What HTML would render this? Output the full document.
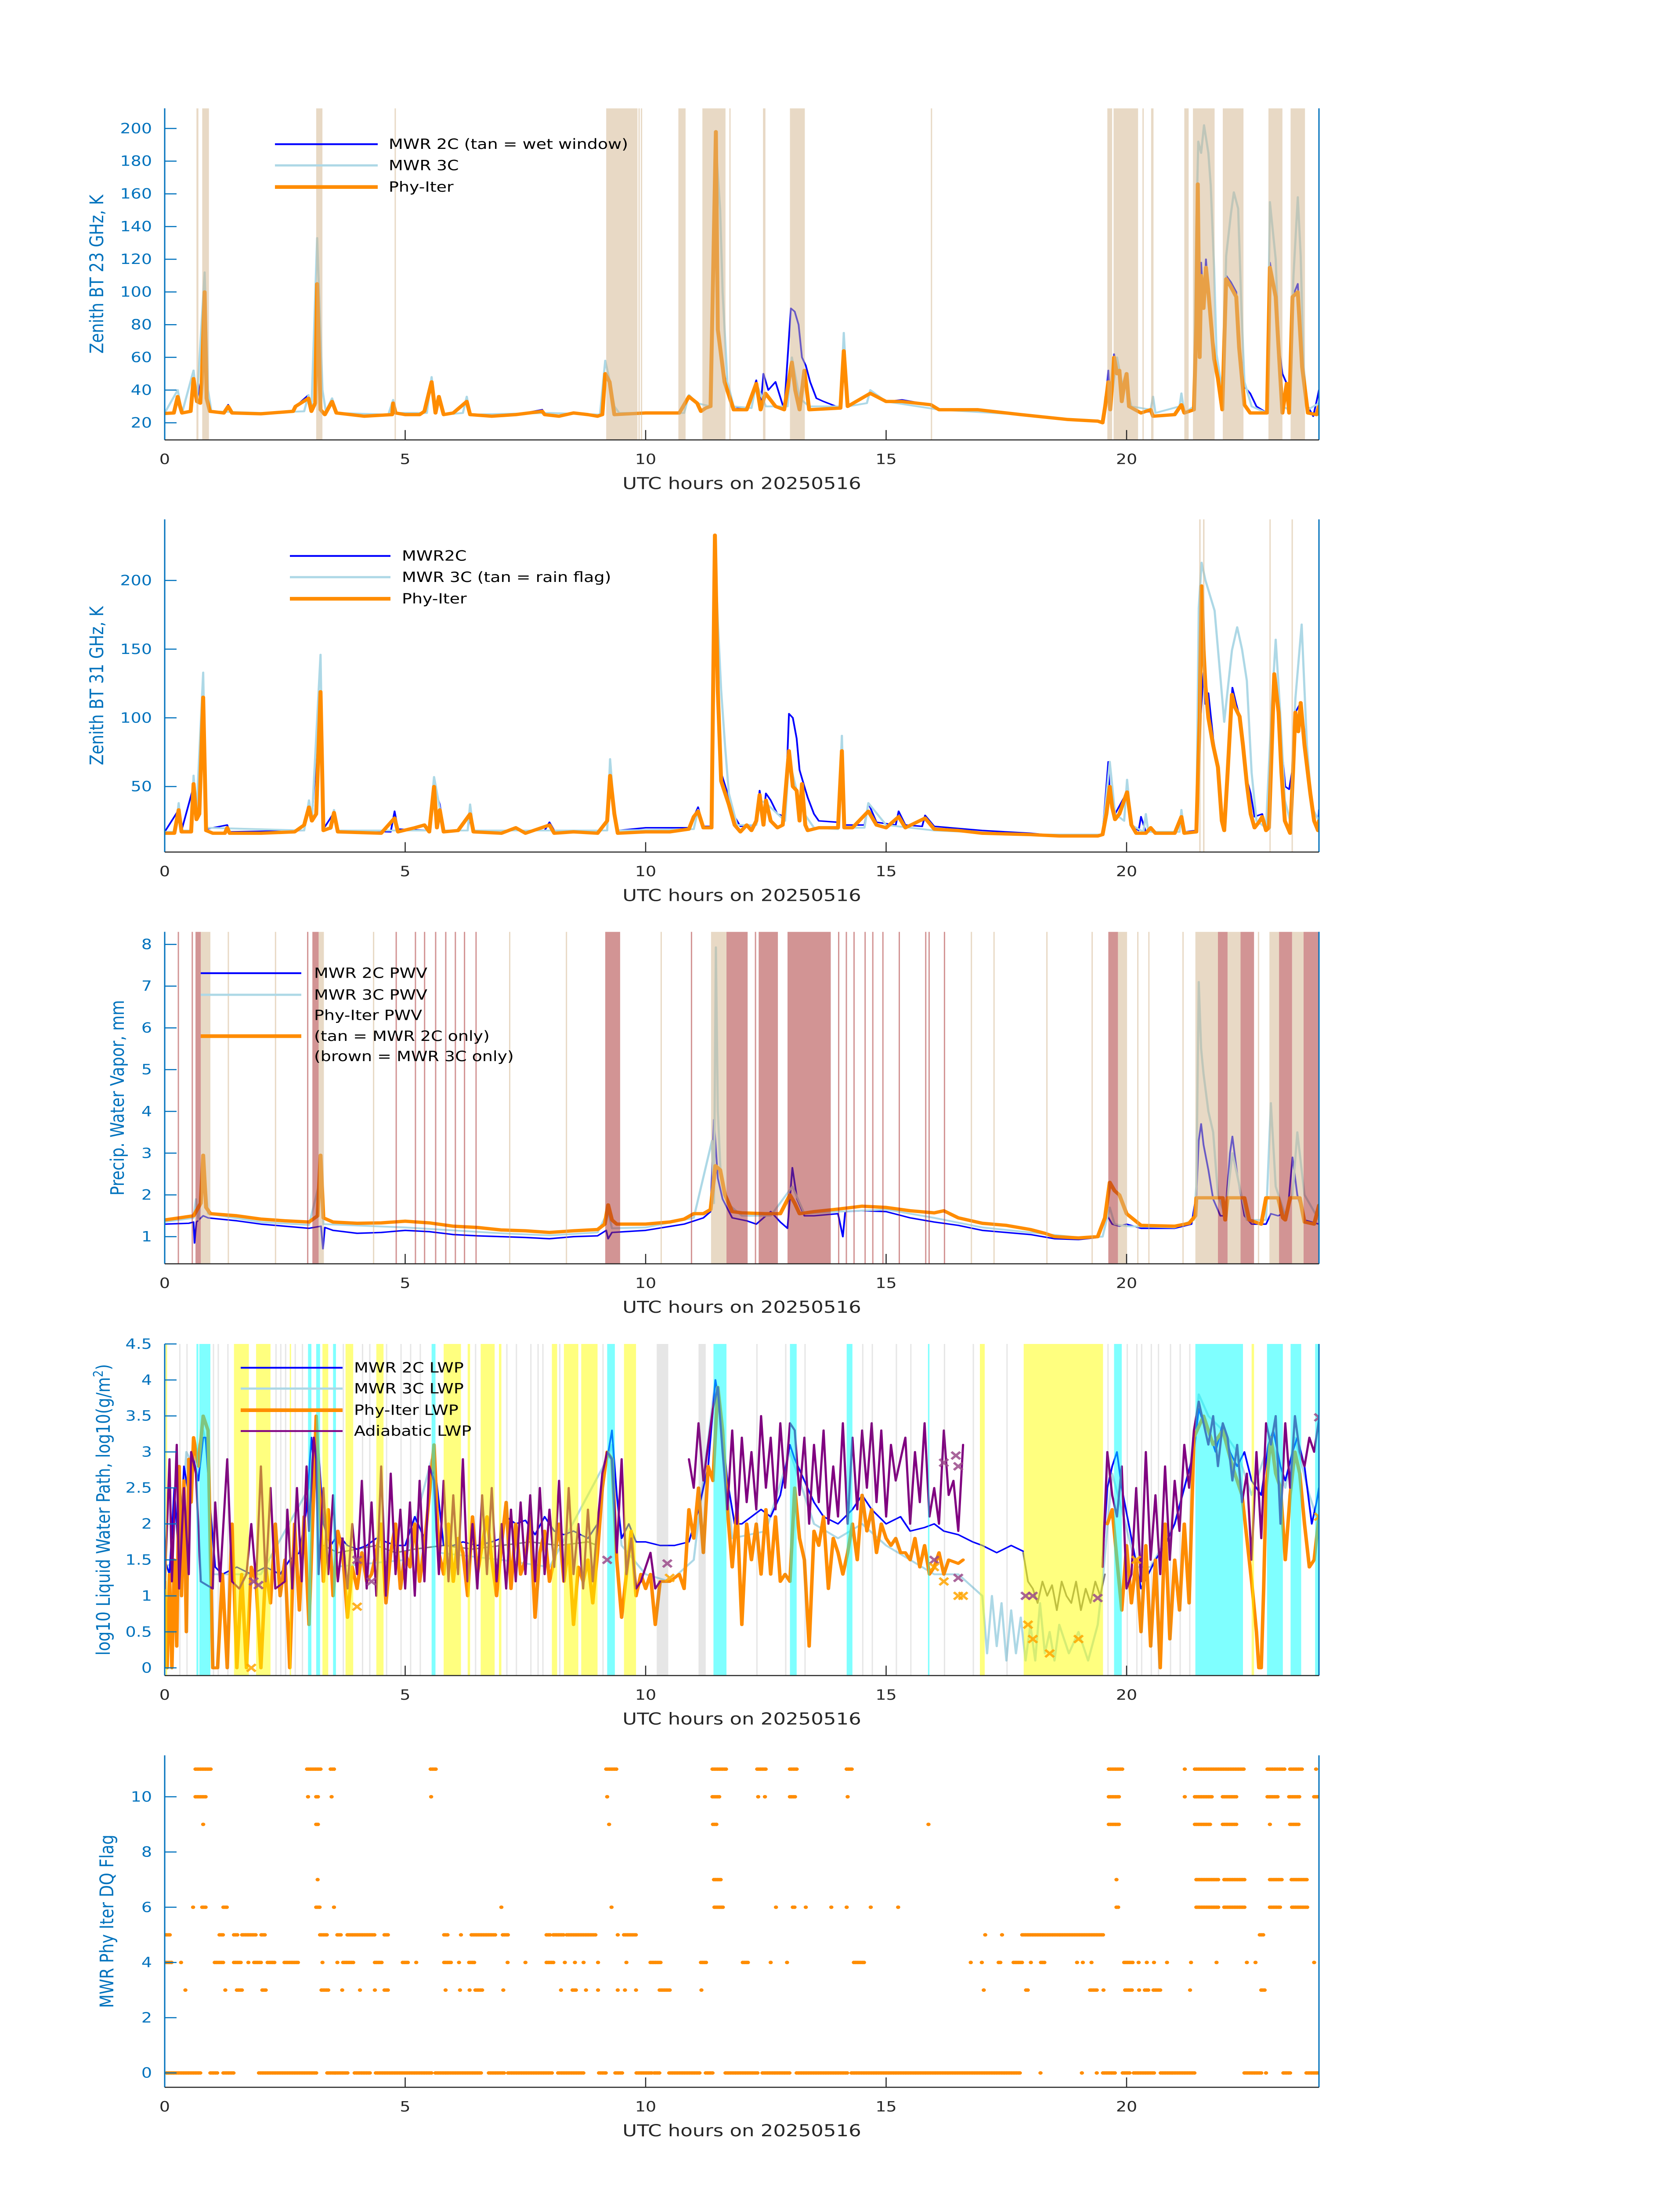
<!DOCTYPE html>
<html><head><meta charset="utf-8"><title>MWR 20250516</title>
<style>
html,body{margin:0;padding:0;background:#fff;width:100vw;height:100vh;overflow:hidden;}
svg{display:block;position:absolute;left:0;top:0;width:100vw;height:100vh;font-family:"DejaVu Sans","Liberation Sans",sans-serif;}
</style></head>
<body>
<svg id="chart" viewBox="0 0 3825 6000" preserveAspectRatio="none" xmlns="http://www.w3.org/2000/svg">
<rect x="0" y="0" width="3825" height="6000" fill="#ffffff"/>
</svg>
<script>
// ---------------- DATA ----------------
const hourTicks = [0,5,10,15,20];
const bt23Ticks = [20,40,60,80,100,120,140,160,180,200];
const bt31Ticks = [50,100,150,200];
const pwvTicks = [1,2,3,4,5,6,7,8];
const lwpTicks = [0,0.5,1,1.5,2,2.5,3,3.5,4,4.5];
const lwpTickLabels = ["0","0.5","1","1.5","2","2.5","3","3.5","4","4.5"];
const flagTicks = [0,2,4,6,8,10];

const bt23Orange = [[0,25.7],[0.19,26],[0.27,36],[0.32,30],[0.36,26],[0.54,27],[0.6,47],[0.64,38],[0.67,33],[0.74,32],[0.77,44],[0.83,100],[0.87,35],[0.94,27],[1.23,26],[1.32,30],[1.4,26],[2.0,25.5],[2.67,27],[2.72,30],[2.99,35],[3.05,27],[3.13,32],[3.17,105],[3.24,28],[3.33,25],[3.48,33],[3.57,26],[4.15,24],[4.73,25],[4.75,32],[4.8,26],[5.0,25],[5.3,25],[5.4,27],[5.55,45],[5.63,26],[5.7,36],[5.8,25],[6.0,26],[6.28,33],[6.35,25],[6.8,24],[7.3,25],[7.85,27],[7.9,25],[8.2,24],[8.5,26],[8.8,25],[9.0,24],[9.1,25],[9.16,50],[9.25,45],[9.35,25],[10.0,26],[10.7,26],[10.9,36],[11.07,32],[11.15,27],[11.25,29],[11.35,30],[11.46,198],[11.5,77],[11.64,45],[11.83,28],[12.1,28],[12.3,44],[12.39,28],[12.49,38],[12.7,30],[12.88,28],[13.04,57],[13.11,40],[13.2,28],[13.3,52],[13.4,28],[14.05,29],[14.12,64],[14.2,30],[14.67,38],[15.0,33],[15.33,33],[15.93,31],[16.1,28],[16.9,28],[17.8,25],[18.78,22],[19.4,21],[19.5,20],[19.56,31],[19.62,45],[19.66,28],[19.74,60],[19.8,50],[19.85,52],[19.9,33],[19.96,45],[20.0,50],[20.05,30],[20.3,26],[20.5,28],[20.55,24],[21.0,25],[21.14,31],[21.2,26],[21.4,28],[21.45,80],[21.48,166],[21.52,60],[21.55,110],[21.6,90],[21.65,115],[21.7,100],[21.82,59],[21.9,47],[21.99,28],[22.07,108],[22.17,103],[22.28,97],[22.34,66],[22.45,31],[22.57,26],[22.92,26],[22.98,115],[23.1,97],[23.15,71],[23.24,26],[23.33,44],[23.38,26],[23.45,97],[23.56,100],[23.65,54],[23.77,26],[23.95,25],[24,30]];
const bt23Blue = [[0,25.7],[0.19,26],[0.27,36],[0.36,26],[0.54,27],[0.6,46],[0.64,40],[0.67,33],[0.7,44],[0.74,32],[0.77,44],[0.83,100],[0.87,35],[0.94,27],[1.23,26],[1.32,31],[1.4,26],[2.0,25.5],[2.67,27],[2.72,30],[2.99,37],[3.05,27],[3.13,32],[3.17,105],[3.24,28],[3.33,25],[3.48,33],[3.57,26],[4.15,24],[4.73,25],[4.75,33],[4.8,26],[5.0,25],[5.3,25],[5.4,28],[5.55,45],[5.63,26],[5.7,36],[5.8,25],[6.0,26],[6.28,33],[6.35,25],[6.8,24],[7.3,25],[7.85,28],[7.9,25],[8.2,24],[8.5,26],[8.8,25],[9.0,24],[9.1,25],[9.16,50],[9.25,45],[9.35,30],[9.45,26],[10.0,26],[10.7,26],[10.9,36],[11.07,32],[11.15,27],[11.25,29],[11.35,30],[11.46,198],[11.5,77],[11.6,50],[11.7,45],[11.83,30],[12.1,28],[12.3,46],[12.39,30],[12.45,50],[12.55,40],[12.7,45],[12.88,28],[13.02,90],[13.1,88],[13.18,80],[13.25,60],[13.33,55],[13.42,45],[13.55,35],[13.7,33],[14.05,29],[14.12,64],[14.2,30],[14.67,38],[15.0,33],[15.33,34],[15.93,31],[16.1,28],[16.9,28],[17.8,25],[18.78,22],[19.4,21],[19.5,20],[19.56,31],[19.62,52],[19.66,30],[19.74,62],[19.8,52],[19.85,52],[19.9,33],[19.96,45],[20.0,50],[20.05,30],[20.3,26],[20.5,27],[20.55,24],[21.0,25],[21.14,31],[21.2,26],[21.4,28],[21.45,80],[21.48,160],[21.52,65],[21.55,118],[21.6,92],[21.65,120],[21.7,100],[21.82,60],[21.9,50],[21.99,32],[22.07,110],[22.17,106],[22.28,100],[22.34,70],[22.45,42],[22.57,38],[22.7,30],[22.92,26],[22.98,118],[23.1,97],[23.15,71],[23.24,50],[23.33,44],[23.38,30],[23.45,97],[23.56,105],[23.65,54],[23.77,30],[23.88,24],[23.95,33],[24,40]];
const bt23Light = [[0,26],[0.27,40],[0.36,26],[0.6,52],[0.67,33],[0.83,112],[0.9,40],[0.97,27],[2.0,26],[2.9,27],[2.99,37],[3.05,27],[3.17,133],[3.28,40],[3.35,27],[3.48,35],[3.57,26],[4.65,25],[4.75,34],[4.8,26],[5.45,26],[5.55,48],[5.63,26],[5.7,36],[5.8,25],[6.2,26],[6.28,36],[6.35,25],[8.0,26],[9.05,25],[9.16,58],[9.25,46],[9.35,30],[9.45,26],[10.8,26],[10.9,37],[11.07,32],[11.35,30],[11.46,190],[11.55,150],[11.6,100],[11.7,45],[11.83,30],[12.2,29],[12.3,44],[12.5,30],[12.95,30],[13.04,60],[13.2,35],[13.4,30],[14.05,30],[14.12,75],[14.2,30],[14.6,32],[14.67,40],[15.0,33],[16.1,28],[17.8,25],[18.78,22],[19.5,21],[19.56,36],[19.62,40],[19.7,38],[19.8,60],[19.9,45],[20.0,42],[20.1,30],[20.5,28],[20.55,36],[20.6,26],[21.1,30],[21.14,38],[21.2,26],[21.4,30],[21.45,140],[21.49,192],[21.55,185],[21.61,202],[21.7,185],[21.75,165],[21.82,114],[21.87,62],[22.0,37],[22.07,122],[22.17,148],[22.23,161],[22.32,151],[22.39,88],[22.45,45],[22.6,30],[22.92,26],[22.98,155],[23.1,120],[23.15,80],[23.24,30],[23.38,28],[23.47,110],[23.56,158],[23.62,122],[23.68,54],[23.77,28],[24,32]];
const bt23Wet = [[0.66,0.70],[0.78,0.92],[3.15,3.28],[4.78,4.80],[9.18,9.83],[9.85,9.86],[9.9,9.91],[10.68,10.83],[11.18,11.66],[11.74,11.75],[12.44,12.49],[13.0,13.31],[15.93,15.95],[19.6,19.7],[19.73,20.24],[20.33,20.34],[20.51,20.56],[21.2,21.29],[21.38,21.83],[22.0,22.43],[22.95,23.24],[23.41,23.71]];

const bt31Orange = [[0,16],[0.2,16],[0.29,33],[0.35,17],[0.55,17],[0.6,52],[0.66,26],[0.72,30],[0.8,115],[0.86,18],[1.0,16],[1.25,16],[1.3,20],[1.35,16],[2.0,16],[2.7,17],[2.9,22],[3.0,35],[3.06,25],[3.15,30],[3.24,119],[3.3,18],[3.45,20],[3.52,31],[3.6,17],[4.5,16],[4.78,27],[4.85,17],[5.2,20],[5.4,22],[5.5,17],[5.6,50],[5.66,20],[5.72,33],[5.8,17],[6.1,18],[6.35,30],[6.42,17],[7.0,16],[7.3,20],[7.5,16],[8.0,22],[8.1,16],[8.5,17],[9.0,16],[9.2,25],[9.26,58],[9.35,30],[9.42,16],[10.0,17],[10.5,17],[10.9,19],[11.0,28],[11.09,32],[11.2,20],[11.37,20],[11.44,233],[11.5,120],[11.57,54],[11.73,37],[11.85,22],[11.97,17],[12.1,22],[12.2,18],[12.3,25],[12.37,44],[12.45,22],[12.5,40],[12.6,25],[12.74,20],[12.85,22],[12.98,76],[13.06,50],[13.14,47],[13.2,25],[13.25,52],[13.32,22],[13.37,18],[13.6,20],[14.0,20],[14.08,76],[14.13,20],[14.3,20],[14.63,32],[14.8,22],[15.0,20],[15.26,28],[15.4,20],[15.81,27],[16.0,19],[16.5,18],[17.0,16],[18.0,15],[18.6,14],[19.4,14],[19.5,15],[19.58,30],[19.65,50],[19.7,35],[19.76,26],[19.85,30],[20.01,46],[20.1,22],[20.2,16],[20.4,16],[20.5,20],[20.6,16],[21.0,16],[21.14,28],[21.2,16],[21.45,17],[21.52,100],[21.56,196],[21.6,150],[21.64,123],[21.7,100],[21.8,80],[21.9,64],[21.98,25],[22.03,18],[22.1,60],[22.19,117],[22.25,108],[22.35,101],[22.42,80],[22.5,52],[22.58,30],[22.66,20],[22.75,24],[22.82,28],[22.9,18],[22.96,20],[23.02,80],[23.07,132],[23.16,104],[23.22,60],[23.29,25],[23.4,16],[23.46,60],[23.51,104],[23.57,90],[23.62,111],[23.7,80],[23.82,45],[23.9,25],[23.98,18],[24,25]];
const bt31Blue = [[0,17],[0.29,33],[0.35,18],[0.6,50],[0.66,28],[0.72,32],[0.8,118],[0.86,19],[1.3,22],[1.35,17],[2.9,18],[3.0,37],[3.06,26],[3.24,119],[3.3,19],[3.52,31],[3.6,18],[4.7,17],[4.78,32],[4.85,19],[5.5,18],[5.6,50],[5.72,37],[5.8,18],[6.3,18],[6.35,30],[6.42,18],[7.9,18],[8.0,24],[8.1,18],[9.2,18],[9.26,58],[9.35,30],[9.42,18],[10.0,20],[10.9,20],[11.09,35],[11.2,21],[11.37,21],[11.44,230],[11.5,120],[11.57,60],[11.73,42],[11.85,28],[11.97,21],[12.3,22],[12.37,47],[12.45,28],[12.5,45],[12.6,40],[12.74,30],[12.9,28],[12.98,103],[13.06,100],[13.14,85],[13.2,62],[13.3,50],[13.37,42],[13.5,30],[13.6,25],[14.0,24],[14.08,80],[14.13,22],[14.55,22],[14.63,38],[14.8,24],[15.2,22],[15.26,32],[15.4,22],[15.75,21],[15.81,29],[16.0,21],[17.0,18],[18.0,16],[18.6,14],[19.5,15],[19.62,68],[19.65,45],[19.7,40],[19.76,30],[20.01,46],[20.1,22],[20.25,18],[20.3,28],[20.4,17],[21.1,17],[21.14,28],[21.2,17],[21.45,18],[21.52,90],[21.6,133],[21.64,110],[21.7,118],[21.8,85],[21.9,64],[21.98,28],[22.03,20],[22.1,70],[22.2,122],[22.28,110],[22.35,101],[22.5,55],[22.58,45],[22.66,28],[22.82,30],[22.9,20],[23.02,90],[23.07,130],[23.16,104],[23.22,80],[23.3,50],[23.38,48],[23.46,65],[23.51,104],[23.62,111],[23.7,90],[23.82,45],[23.92,22],[23.98,18],[24,33]];
const bt31Light = [[0,17],[0.22,17],[0.29,38],[0.35,18],[0.55,18],[0.6,58],[0.66,30],[0.8,133],[0.86,20],[2.9,18],[3.0,40],[3.06,26],[3.24,146],[3.3,19],[3.45,19],[3.52,33],[3.6,18],[5.5,18],[5.6,57],[5.72,34],[5.8,18],[6.3,18],[6.35,37],[6.42,18],[9.2,18],[9.26,70],[9.35,30],[9.42,18],[11.0,19],[11.09,33],[11.2,20],[11.38,20],[11.44,225],[11.5,170],[11.57,120],[11.65,80],[11.73,45],[11.9,22],[12.3,22],[12.37,40],[12.5,38],[12.9,25],[12.98,70],[13.14,47],[13.3,30],[13.5,20],[14.0,19],[14.08,87],[14.13,20],[14.55,20],[14.63,38],[15.0,22],[16.0,18],[18.0,15],[19.5,15],[19.65,68],[19.76,30],[19.95,25],[20.01,55],[20.1,22],[20.35,17],[20.4,30],[20.45,17],[21.1,17],[21.14,33],[21.2,17],[21.45,17],[21.5,180],[21.56,213],[21.64,200],[21.83,178],[21.95,130],[22.03,97],[22.1,120],[22.19,149],[22.3,166],[22.4,150],[22.5,127],[22.6,60],[22.7,25],[22.9,20],[23.02,110],[23.1,157],[23.2,100],[23.29,40],[23.4,25],[23.51,114],[23.64,168],[23.7,120],[23.75,80],[23.85,35],[24,25]];
const bt31Rain = [[21.51,21.54],[21.59,21.62],[22.97,22.99],[23.43,23.45]];

const pwvOrange = [[0,1.4],[0.3,1.45],[0.6,1.5],[0.75,1.8],[0.8,2.95],[0.86,1.7],[0.95,1.55],[1.5,1.5],[2.0,1.42],[2.5,1.38],[3.0,1.35],[3.18,1.5],[3.24,2.95],[3.3,1.45],[3.5,1.35],[4.0,1.32],[4.5,1.33],[5.0,1.37],[5.5,1.33],[6.0,1.25],[6.5,1.22],[7.0,1.16],[7.5,1.14],[8.0,1.1],[8.5,1.14],[9.0,1.17],[9.15,1.3],[9.22,1.76],[9.3,1.4],[9.4,1.3],[10.0,1.3],[10.5,1.35],[10.8,1.42],[11.0,1.55],[11.2,1.55],[11.35,1.65],[11.45,2.7],[11.55,2.6],[11.65,2.0],[11.8,1.6],[12.0,1.57],[12.5,1.55],[12.8,1.55],[13.0,2.0],[13.1,1.8],[13.2,1.55],[13.5,1.6],[14.0,1.66],[14.5,1.73],[15.0,1.7],[15.5,1.62],[16.0,1.57],[16.2,1.62],[16.5,1.45],[17.0,1.32],[17.5,1.27],[18.0,1.17],[18.3,1.08],[18.5,1.0],[19.0,0.97],[19.4,1.0],[19.55,1.45],[19.65,2.3],[19.75,2.1],[19.85,2.0],[20.0,1.55],[20.3,1.27],[21.0,1.25],[21.3,1.32],[21.43,1.5],[21.45,1.93],[22.0,1.93],[22.05,1.4],[22.1,1.93],[22.45,1.93],[22.55,1.4],[22.8,1.3],[22.9,1.93],[23.15,1.93],[23.25,1.45],[23.3,1.4],[23.4,1.93],[23.6,1.93],[23.7,1.35],[23.9,1.3],[24,1.75]];
const pwvBlue = [[0,1.3],[0.5,1.32],[0.6,1.35],[0.62,0.85],[0.66,1.35],[0.8,1.5],[0.9,1.45],[1.5,1.38],[2.0,1.3],[2.5,1.25],[3.0,1.2],[3.25,1.25],[3.29,0.71],[3.33,1.22],[3.5,1.15],[4.0,1.08],[4.5,1.1],[5.0,1.15],[5.5,1.12],[6.0,1.05],[6.5,1.02],[7.0,1.0],[7.5,0.98],[8.0,0.95],[8.5,1.0],[9.0,1.02],[9.18,1.15],[9.22,0.95],[9.3,1.1],[10.0,1.15],[10.8,1.3],[11.2,1.45],[11.35,1.6],[11.42,3.8],[11.5,2.4],[11.6,1.9],[11.8,1.45],[12.1,1.38],[12.3,1.3],[12.6,1.6],[12.8,1.35],[12.95,1.2],[13.05,2.65],[13.15,1.9],[13.3,1.5],[13.5,1.5],[14.0,1.55],[14.1,1.0],[14.15,1.6],[14.5,1.62],[15.0,1.6],[15.5,1.45],[16.0,1.35],[16.5,1.27],[17.0,1.15],[17.5,1.1],[18.0,1.05],[18.5,0.95],[19.0,0.93],[19.4,0.98],[19.6,1.5],[19.7,1.3],[19.85,1.25],[20.0,1.3],[20.3,1.2],[21.0,1.2],[21.35,1.3],[21.45,2.0],[21.5,3.3],[21.55,3.7],[21.6,3.2],[21.7,2.6],[21.8,1.9],[21.95,1.5],[22.05,1.5],[22.15,3.0],[22.2,3.4],[22.3,2.5],[22.45,1.5],[22.6,1.3],[22.9,1.3],[23.0,1.55],[23.15,1.5],[23.35,1.6],[23.45,2.9],[23.55,2.0],[23.7,1.4],[24,1.3]];
const pwvLight = [[0,1.35],[0.6,1.45],[0.65,1.9],[0.7,1.4],[0.8,2.9],[0.9,1.55],[2.0,1.35],[3.0,1.28],[3.24,2.4],[3.3,1.3],[5.0,1.22],[7.0,1.08],[8.0,1.03],[9.0,1.1],[9.22,1.6],[9.3,1.2],[10.0,1.22],[11.0,1.45],[11.38,3.3],[11.42,1.8],[11.46,7.93],[11.5,4.0],[11.56,2.5],[11.7,1.8],[12.0,1.5],[12.6,1.5],[13.05,2.2],[13.3,1.55],[14.0,1.6],[15.0,1.65],[16.0,1.45],[17.0,1.22],[18.0,1.1],[19.0,0.98],[19.5,1.0],[19.65,1.7],[19.75,1.3],[20.0,1.25],[21.0,1.22],[21.4,1.4],[21.45,2.2],[21.5,7.1],[21.55,5.5],[21.6,4.9],[21.7,4.0],[21.8,3.5],[21.9,2.0],[22.05,1.5],[22.2,3.0],[22.35,2.2],[22.5,1.4],[22.9,1.4],[23.0,4.2],[23.1,2.2],[23.3,1.5],[23.45,2.0],[23.55,3.5],[23.7,2.0],[24,1.4]];
const pwvTanSpans = [[0.75,0.95],[3.2,3.31],[11.36,11.68],[19.82,20.01],[21.43,21.9],[22.1,22.37],[22.97,23.17],[23.44,23.68],[1.31,1.32],[2.29,2.3],[4.33,4.34],[7.16,7.17],[8.34,8.35],[10.31,10.32],[16.76,16.77],[17.23,17.24],[18.33,18.34],[19.27,19.28],[20.22,20.23],[20.45,20.46],[21.16,21.17],[22.73,22.74]];
const pwvBrownSpans = [[0.64,0.75],[3.07,3.2],[9.16,9.47],[11.68,12.12],[12.35,12.75],[12.95,13.85],[19.62,19.82],[21.9,22.1],[22.37,22.65],[23.17,23.44],[23.68,24],[0.27,0.28],[0.56,0.57],[2.96,2.97],[4.8,4.81],[5.2,5.21],[5.39,5.4],[5.62,5.63],[5.83,5.84],[6.03,6.04],[6.22,6.23],[6.46,6.47],[10.94,10.95],[12.27,12.28],[14.0,14.01],[14.16,14.17],[14.32,14.33],[14.55,14.56],[14.71,14.72],[14.92,14.93],[15.26,15.27],[15.81,15.83],[15.88,15.9],[16.2,16.21]];

const lwpBlue = [[0,1.5],[0.1,1.3],[0.2,2.5],[0.3,1.4],[0.4,2.8],[0.5,2.4],[0.6,2.9],[0.7,2.6],[0.8,3.2],[0.85,3.2],[0.95,2.2],[1.05,1.4],[1.2,1.3],[1.5,1.4],[1.8,1.3],[2.1,1.4],[2.4,1.3],[2.6,1.5],[2.8,1.6],[2.95,2.2],[3.05,3.2],[3.1,2.8],[3.2,3.0],[3.3,2.0],[3.45,1.7],[3.6,1.85],[3.8,1.7],[4.0,1.65],[4.2,1.7],[4.4,1.8],[4.6,1.75],[4.8,1.7],[5.0,1.7],[5.2,2.1],[5.4,1.8],[5.55,2.8],[5.65,2.6],[5.8,1.7],[6.0,1.7],[6.2,1.75],[6.5,1.7],[6.8,1.75],[7.0,1.8],[7.1,2.1],[7.3,2.0],[7.5,2.05],[7.7,1.85],[7.9,2.1],[8.1,1.9],[8.3,1.85],[8.5,1.9],[8.8,1.8],[9.0,2.0],[9.2,2.9],[9.3,3.3],[9.4,2.4],[9.5,1.8],[9.65,2.0],[9.8,1.75],[10.0,1.75],[10.3,1.7],[10.6,1.7],[10.9,1.75],[11.1,2.2],[11.3,2.8],[11.45,4.0],[11.55,3.6],[11.7,2.6],[11.85,2.0],[12.0,2.0],[12.2,2.1],[12.4,2.2],[12.6,2.1],[12.8,2.4],[13.0,3.1],[13.1,2.9],[13.3,2.6],[13.5,2.3],[13.7,2.1],[14.0,2.0],[14.3,2.2],[14.5,2.4],[14.7,2.2],[15.0,2.0],[15.3,2.1],[15.5,1.9],[15.8,1.95],[16.0,2.0],[16.2,1.9],[16.5,1.85],[16.8,1.75],[17.0,1.7],[17.3,1.6],[17.6,1.7],[17.85,1.62],null,[19.5,1.5],[19.6,2.5],[19.7,2.8],[19.8,3.0],[19.9,2.5],[20.1,1.8],[20.3,1.1],[20.45,1.3],[20.6,1.5],[20.8,1.7],[21.0,2.0],[21.2,2.5],[21.4,3.0],[21.5,3.6],[21.6,3.4],[21.7,3.3],[21.85,3.0],[22.0,3.4],[22.15,3.0],[22.3,2.8],[22.45,3.0],[22.6,2.6],[22.8,2.4],[22.95,3.1],[23.05,3.3],[23.2,2.8],[23.3,2.6],[23.45,3.0],[23.55,3.2],[23.7,2.8],[23.85,2.0],[23.95,2.3],[24,2.5]];
const lwpLight = [[0,1.4],[0.3,1.5],[0.45,3.0],[0.6,2.8],[0.8,3.3],[0.9,3.0],[1.0,1.3],[2.0,1.3],[3.0,2.5],[3.15,3.3],[3.3,1.5],[3.5,1.4],[5.0,1.5],[5.55,2.9],[5.7,1.6],[7.0,1.5],[8.0,1.4],[9.2,2.9],[9.3,3.1],[9.5,1.7],[10.0,1.3],[10.5,1.2],[11.0,1.5],[11.45,4.0],[11.6,3.2],[11.8,1.8],[12.5,1.9],[13.0,3.0],[13.5,2.0],[14.0,1.8],[14.5,2.0],[15.0,1.7],[15.5,1.5],[16.0,1.3],[16.5,1.3],[17.0,1.0],[17.1,0.2],[17.2,1.0],[17.3,0.3],[17.4,0.9],[17.5,0.1],[17.6,0.8],[17.7,0.2],[17.8,0.7],[17.9,0.1],[18.0,0.6],[18.1,0.1],[18.2,0.9],[18.3,0.2],[18.4,0.5],[18.5,0.1],[18.6,0.6],[18.8,0.2],[19.0,0.5],[19.2,0.1],[19.4,0.6],[19.5,1.2],[19.7,2.7],[19.9,2.2],[20.2,1.4],[20.5,1.4],[21.0,2.0],[21.4,3.0],[21.5,3.8],[21.7,3.5],[22.0,3.3],[22.3,3.0],[22.6,2.4],[23.0,3.2],[23.3,2.5],[23.5,3.2],[23.8,2.4],[24,2.0]];
const lwpGray = [[3.3,1.7],[3.6,1.6],[4.0,1.65],[4.4,1.7],[4.8,1.6],[5.2,1.65],[5.8,1.7],[6.4,1.65],[7.0,1.7],[7.6,1.75],[8.2,1.7],[8.8,1.75],[9.0,1.7],null,[17.85,1.6],[17.95,1.2],[18.05,1.1],[18.15,0.9],[18.25,1.2],[18.35,1.0],[18.45,1.15],[18.55,0.8],[18.65,1.2],[18.75,1.0],[18.85,0.9],[18.95,1.2],[19.05,0.8],[19.15,1.1],[19.25,0.9],[19.35,1.2],[19.45,1.0],[19.55,1.3]];
const lwpOrange = [[0,1.2],[0.05,0],[0.1,1.3],[0.15,0],[0.2,1.5],[0.25,0.3],[0.3,2.8],[0.35,1.0],[0.4,2.6],[0.45,0.5],[0.5,2.9],[0.55,2.3],[0.6,3.2],[0.7,2.8],[0.8,3.5],[0.9,3.3],[0.95,1.6],[1.0,0],[1.1,0],[1.2,1.3],[1.3,0],[1.4,2.0],[1.5,0],[1.6,1.3],[1.7,0],[1.8,1.4],[1.9,1.2],[2.0,0],[2.1,1.4],[2.2,0.9],[2.3,2.0],[2.4,1.0],[2.5,1.5],[2.6,0],[2.7,2.0],[2.8,0.8],[2.9,2.1],[3.0,0.6],[3.1,2.5],[3.15,3.5],[3.3,1.2],[3.4,2.2],[3.5,1.0],[3.6,1.9],[3.7,1.6],[3.8,0.7],[3.9,1.4],[4.0,1.1],[4.1,1.6],[4.2,1.2],[4.3,1.3],[4.4,1.6],[4.5,2.0],[4.6,0.9],[4.7,1.6],[4.8,2.0],[4.9,1.1],[5.0,1.6],[5.1,1.4],[5.2,2.0],[5.3,1.2],[5.4,1.7],[5.5,2.4],[5.6,3.1],[5.7,1.6],[5.8,1.3],[5.9,2.0],[6.0,1.2],[6.1,1.8],[6.2,1.6],[6.3,1.0],[6.4,2.1],[6.5,1.3],[6.6,1.7],[6.7,2.1],[6.8,1.5],[6.9,1.0],[7.0,1.7],[7.1,2.3],[7.2,1.1],[7.3,2.0],[7.4,1.3],[7.5,1.5],[7.6,2.1],[7.7,0.7],[7.8,1.6],[7.9,1.9],[8.0,1.2],[8.1,1.5],[8.2,2.0],[8.3,1.2],[8.4,1.7],[8.5,0.6],[8.6,1.4],[8.7,1.2],[8.8,1.5],[8.9,0.9],[9.0,1.6],[9.1,2.5],[9.2,3.0],[9.3,2.9],[9.4,1.5],[9.5,0.7],[9.6,1.3],[9.7,1.9],[9.8,1.0],[9.9,1.3],[10.0,1.1],[10.1,1.3],[10.2,0.6],[10.3,1.2],[10.5,1.2],[10.7,1.3],[10.8,1.1],[10.9,2.2],[11.0,1.8],[11.1,2.5],[11.2,1.6],[11.3,2.8],[11.4,2.6],[11.5,3.9],[11.6,3.3],[11.7,2.2],[11.8,1.4],[11.9,2.2],[12.0,0.6],[12.1,2.0],[12.2,1.5],[12.3,2.0],[12.4,1.3],[12.5,2.2],[12.6,1.3],[12.7,2.1],[12.8,1.2],[12.9,1.3],[13.0,1.2],[13.1,2.5],[13.2,1.8],[13.3,1.5],[13.4,0.3],[13.5,1.9],[13.6,1.7],[13.7,2.1],[13.8,1.1],[13.9,1.8],[14.0,1.6],[14.1,1.3],[14.2,1.6],[14.3,2.0],[14.4,1.5],[14.5,2.4],[14.6,1.9],[14.7,2.2],[14.8,1.6],[14.9,2.0],[15.0,1.8],[15.1,1.7],[15.2,1.8],[15.3,1.6],[15.4,1.6],[15.5,1.5],[15.6,1.8],[15.7,1.4],[15.8,1.7],[15.9,1.3],[16.0,1.4],[16.1,1.6],[16.2,1.3],[16.3,1.5],[16.5,1.45],[16.6,1.5],null,[19.6,2.0],[19.7,2.2],[19.8,1.5],[19.9,0.8],[20.0,1.7],[20.1,0.9],[20.2,1.5],[20.3,0.5],[20.4,1.7],[20.5,0.3],[20.6,1.5],[20.7,0],[20.8,2.0],[20.9,0.4],[21.0,1.5],[21.1,0.8],[21.2,2.0],[21.3,0.9],[21.4,3.2],[21.6,3.5],[21.8,3.1],[22.0,3.3],[22.2,2.8],[22.4,2.4],[22.5,1.8],[22.6,1.2],[22.7,0.5],[22.75,0],[22.8,0],[22.85,1.1],[22.9,2.5],[23.0,3.2],[23.1,2.7],[23.2,2.5],[23.3,1.5],[23.4,2.4],[23.5,3.0],[23.6,2.7],[23.7,2.0],[23.8,1.4],[23.9,1.5],[24,2.1]];
const lwpAdiabatic = [[0,1.1],[0.1,2.9],[0.15,1.2],[0.25,3.1],[0.3,1.1],[0.4,2.5],[0.5,1.3],[0.55,3.0],[0.65,2.7],[0.75,1.2],[1.0,1.1],[1.05,2.3],[1.15,1.2],[1.3,2.9],[1.4,1.2],[1.55,1.1],[1.7,1.3],[1.8,2.0],[1.9,1.2],[2.0,2.8],[2.1,1.2],[2.2,2.5],[2.3,1.1],[2.5,1.2],[2.55,2.2],[2.65,1.1],[2.75,2.5],[2.85,1.2],[2.95,2.8],[3.0,1.9],[3.1,3.2],[3.15,2.9],[3.2,1.3],[3.3,2.5],[3.4,1.3],[3.5,2.4],[3.6,1.2],[3.7,1.8],[3.8,1.1],[3.9,2.0],[4.0,1.3],[4.1,2.6],[4.2,1.1],[4.3,2.3],[4.4,1.0],[4.5,2.8],[4.6,1.0],[4.7,2.7],[4.8,1.3],[4.9,2.2],[5.0,1.1],[5.1,2.3],[5.2,1.0],[5.3,2.6],[5.4,1.2],[5.5,2.8],[5.6,2.6],[5.7,1.3],[5.8,2.6],[5.9,1.2],[6.0,2.4],[6.1,1.3],[6.2,2.9],[6.3,1.2],[6.4,2.0],[6.5,1.1],[6.6,2.4],[6.7,1.3],[6.8,2.5],[6.9,1.2],[7.0,2.0],[7.1,1.1],[7.2,2.2],[7.3,1.2],[7.4,2.3],[7.5,1.3],[7.6,2.4],[7.7,1.2],[7.8,2.5],[7.9,1.3],[8.0,2.2],[8.1,1.4],[8.2,2.6],[8.3,1.2],[8.4,2.5],[8.5,1.3],[8.6,2.0],[8.7,1.1],[8.8,2.2],[8.9,1.2],[9.0,2.0],[9.1,2.7],[9.2,3.0],[9.3,2.9],[9.4,1.6],[9.5,2.9],[9.6,1.3],[9.7,1.8],[9.8,1.1],[9.9,1.2],[10.0,1.4],[10.1,1.6],[10.2,1.1],[10.3,1.2],null,[10.9,2.9],[11.0,2.5],[11.1,3.4],[11.2,2.6],[11.3,3.1],[11.4,3.6],[11.5,3.9],[11.6,3.0],[11.7,2.2],[11.8,3.3],[11.9,2.0],[12.0,3.2],[12.1,2.3],[12.2,3.0],[12.3,2.2],[12.4,3.5],[12.5,2.5],[12.6,3.2],[12.7,2.2],[12.8,3.4],[12.9,2.5],[13.0,3.4],[13.1,3.3],[13.2,2.4],[13.3,3.2],[13.4,2.0],[13.5,3.1],[13.6,2.3],[13.7,3.3],[13.8,2.0],[13.9,2.8],[14.0,2.1],[14.1,3.4],[14.2,2.0],[14.3,3.2],[14.4,2.2],[14.5,3.3],[14.6,2.5],[14.7,3.4],[14.8,2.3],[14.9,3.3],[15.0,2.1],[15.1,3.1],[15.2,2.6],[15.3,2.9],[15.4,3.2],[15.5,2.0],[15.6,3.0],[15.7,2.3],[15.8,3.4],[15.9,2.1],[16.0,2.5],[16.1,2.0],[16.2,3.3],[16.3,2.4],[16.4,2.6],[16.5,1.9],[16.6,3.1],null,[19.5,1.4],[19.6,3.0],[19.7,2.4],[19.8,2.1],[19.9,2.8],[20.0,1.1],[20.1,1.3],[20.2,2.5],[20.3,1.2],[20.4,3.0],[20.5,1.5],[20.6,2.4],[20.7,1.3],[20.8,2.8],[20.9,1.5],[21.0,2.6],[21.1,1.9],[21.2,3.1],[21.3,2.5],[21.4,3.3],[21.5,3.7],[21.6,3.4],[21.7,3.1],[21.8,3.5],[21.9,2.8],[22.0,3.4],[22.1,3.2],[22.2,2.6],[22.3,3.1],[22.4,2.3],[22.5,2.7],[22.6,1.5],[22.7,3.0],[22.8,1.8],[22.9,3.4],[23.0,3.1],[23.1,3.5],[23.2,2.0],[23.3,3.4],[23.4,2.5],[23.5,3.5],[23.6,3.0],[23.7,2.8],[23.8,3.2],[23.9,3.0],[24,3.45]];
const lwpAdiabaticMarks = [[1.85,1.2],[1.95,1.15],[4.0,1.5],[4.3,1.2],[9.2,1.5],[10.45,1.45],[16.0,1.5],[16.2,2.85],[16.45,2.95],[16.5,2.8],[16.5,1.25],[17.9,1.0],[18.05,1.0],[19.4,0.97],[24.0,3.48]];
const lwpPhyMarks = [[1.8,0],[4.0,0.85],[10.5,1.25],[16.0,1.4],[16.2,1.2],[16.5,1.0],[16.6,1.0],[17.95,0.6],[18.05,0.4],[18.4,0.2],[19.0,0.4],[20.2,1.5],[24,2.1]];
const lwpCyanSpans = [[0.66,0.7],[0.72,0.95],[2.98,3.05],[3.15,3.23],[3.5,3.56],[5.55,5.63],[9.2,9.36],[11.41,11.68],[13.0,13.14],[14.18,14.3],[15.87,15.9],[19.74,19.9],[21.43,22.42],[22.92,23.25],[23.41,23.63],[23.92,24]];
const lwpYellowSpans = [[0.02,0.05],[1.44,1.75],[1.9,2.2],[2.6,2.62],[3.28,3.4],[3.76,3.92],[4.4,4.55],[5.8,6.16],[6.3,6.35],[6.57,6.86],[6.95,7.0],[8.05,8.16],[8.3,8.6],[8.66,9.0],[9.55,9.8],[16.95,17.05],[17.86,19.51],[22.6,22.65]];
const lwpGraySpans = [[0.3,0.32],[0.45,0.47],[1.0,1.02],[1.1,1.12],[1.3,1.32],[2.3,2.32],[2.4,2.42],[2.5,2.52],[2.7,2.72],[2.85,2.87],[3.7,3.72],[4.1,4.12],[4.25,4.27],[4.6,4.62],[4.9,4.92],[5.1,5.12],[5.3,5.32],[6.45,6.47],[7.1,7.12],[7.3,7.32],[7.6,7.62],[7.75,7.77],[7.85,7.87],[8.2,8.22],[9.1,9.12],[10.23,10.47],[11.1,11.25],[12.3,12.32],[12.9,12.92],[13.3,13.32],[14.5,14.52],[14.7,14.72],[15.2,15.22],[15.5,15.52],[16.2,16.22],[16.8,16.82],[17.5,17.52],[19.6,19.62],[20.0,20.02],[20.2,20.22],[20.3,20.32],[20.5,20.52],[20.65,20.67],[20.9,20.92],[21.1,21.12],[21.3,21.32]];

const flag0Runs = [[0.04,0.74],[0.95,1.12],[1.22,1.44],[1.96,3.15],[3.38,3.82],[3.95,4.27],[4.39,5.56],[5.63,6.6],[6.74,7.07],[7.14,8.08],[8.18,8.71],[9.03,9.18],[9.37,9.54],[9.81,10.13],[10.18,10.29],[10.49,11.15],[11.25,11.41],[11.66,12.35],[12.43,13.02],[13.14,14.21],[14.28,17.81],[18.21,18.21],[19.07,19.07],[19.38,19.38],[19.51,19.77],[19.92,20.07],[20.15,20.58],[20.71,21.42],[22.45,22.8],[22.9,22.9],[23.26,23.41],[23.74,24.0]];
const flag3Runs = [[0.43,0.43],[1.26,1.26],[1.5,1.61],[2.03,2.1],[3.26,3.4],[3.69,3.69],[4.06,4.06],[4.37,4.37],[4.57,4.67],[5.84,5.84],[6.14,6.14],[6.34,6.34],[6.46,6.6],[7.04,7.04],[8.24,8.24],[8.48,8.58],[8.76,8.76],[9.01,9.01],[9.42,9.42],[9.57,9.57],[9.8,9.8],[10.29,10.51],[11.16,11.16],[17.03,17.03],[17.91,17.95],[19.24,19.38],[19.52,19.52],[19.97,20.12],[20.26,20.26],[20.38,20.48],[20.56,20.73],[21.32,21.32],[22.8,22.87]];
const flag4Runs = [[0.0,0.15],[0.34,0.34],[1.04,1.23],[1.44,1.59],[1.74,1.74],[1.86,2.03],[2.14,2.31],[2.49,2.77],[3.28,3.28],[3.59,3.59],[3.71,3.95],[4.37,4.51],[4.95,5.07],[5.23,5.23],[5.81,5.98],[6.12,6.12],[6.33,6.44],[7.13,7.13],[7.5,7.5],[7.94,8.11],[8.32,8.32],[8.53,8.53],[8.71,8.71],[9.01,9.01],[9.6,9.6],[10.1,10.34],[11.15,11.28],[12.02,12.14],[12.6,12.6],[12.94,12.94],[14.33,14.55],[16.76,16.76],[16.99,16.99],[17.34,17.4],[17.65,17.83],[18.01,18.01],[18.22,18.29],[18.97,18.97],[19.09,19.09],[19.27,19.27],[19.95,20.15],[20.25,20.25],[20.42,20.42],[20.57,20.57],[20.84,20.84],[21.34,21.34],[21.87,21.87],[22.5,22.5],[22.68,22.68],[23.9,23.9]];
const flag5Runs = [[0.0,0.11],[1.14,1.21],[1.44,1.54],[1.61,1.91],[2.01,2.1],[3.23,3.37],[3.59,3.69],[3.8,4.37],[4.57,4.64],[5.81,5.9],[6.16,6.16],[6.38,6.89],[7.03,7.14],[7.94,8.01],[8.08,8.32],[8.36,8.98],[9.42,9.42],[9.55,9.8],[17.06,17.06],[17.41,17.41],[17.83,19.53],[22.77,22.87]];
const flag6Runs = [[0.59,0.59],[0.78,0.85],[1.22,1.29],[3.15,3.22],[3.52,3.52],[7.0,7.0],[9.29,9.29],[11.43,11.63],[12.71,12.71],[13.06,13.12],[13.33,13.33],[13.86,13.86],[14.18,14.18],[14.68,14.68],[15.25,15.25],[19.79,19.85],[21.45,21.93],[22.03,22.47],[22.98,23.21],[23.44,23.76]];
const flag7Runs = [[3.18,3.18],[11.42,11.56],[19.79,19.79],[21.45,21.93],[22.03,22.47],[22.98,23.24],[23.43,23.76]];
const flag9Runs = [[0.8,0.8],[3.15,3.2],[9.24,9.24],[11.4,11.5],[15.88,15.88],[19.63,19.87],[21.42,21.75],[22.0,22.3],[22.98,22.98],[23.4,23.6]];
const flag10Runs = [[0.64,0.87],[2.98,2.98],[3.15,3.2],[3.47,3.47],[5.54,5.54],[9.2,9.2],[11.39,11.56],[12.34,12.34],[12.48,12.48],[13.0,13.12],[14.2,14.2],[19.63,19.87],[21.21,21.21],[21.42,21.78],[22.0,22.3],[22.93,23.15],[23.38,23.62],[23.9,24.0]];
const flag11Runs = [[0.64,0.97],[2.96,3.26],[3.45,3.54],[5.53,5.65],[9.18,9.39],[11.39,11.69],[12.32,12.51],[13.0,13.14],[14.18,14.31],[19.63,19.92],[21.21,21.21],[21.42,22.44],[22.93,23.28],[23.4,23.66],[23.94,23.94]];
const flagLevels = [0,3,4,5,6,7,9,10,11];

// ---------------- RENDERING ----------------
const NS = 'http://www.w3.org/2000/svg';
const svg = document.getElementById('chart');
const X0 = 375, X1 = 3003;
function sx(h){ return X0 + (h/24)*(X1-X0); }
function mk(tag, attrs, parent){
  const e = document.createElementNS(NS, tag);
  for (const k in attrs) e.setAttribute(k, attrs[k]);
  (parent || svg).appendChild(e);
  return e;
}
function makeY(p){ return v => p.bottom - (v - p.ymin)/(p.ymax - p.ymin)*(p.bottom - p.top); }
function pathD(data, ys){
  let d = '', pen = false;
  for (const pt of data){
    if (pt === null){ pen = false; continue; }
    d += (pen ? 'L' : 'M') + sx(pt[0]).toFixed(1) + ',' + ys(pt[1]).toFixed(1);
    pen = true;
  }
  return d;
}

const panels = [
  {id:'bt23', top:296, bottom:1202, ymin:9.5, ymax:212.3, ticks:bt23Ticks, labels:null, ylabel:'Zenith BT 23 GHz, K', ylx:235},
  {id:'bt31', top:1419, bottom:2328, ymin:2.3, ymax:244.5, ticks:bt31Ticks, labels:null, ylabel:'Zenith BT 31 GHz, K', ylx:235},
  {id:'pwv', top:2546, bottom:3453, ymin:0.35, ymax:8.3, ticks:pwvTicks, labels:null, ylabel:'Precip. Water Vapor, mm', ylx:282},
  {id:'lwp', top:3672, bottom:4578, ymin:-0.107, ymax:4.5, ticks:lwpTicks, labels:lwpTickLabels, ylabel:null, ylx:250},
  {id:'flag', top:4796, bottom:5703, ymin:-0.52, ymax:11.5, ticks:flagTicks, labels:null, ylabel:'MWR Phy Iter DQ Flag', ylx:258}
];

function panelGroup(p){
  const g = mk('g', {});
  
  
  const defs = mk('defs', {}, g);
  const cp = mk('clipPath', {id:'clip-' + p.id}, defs);
  mk('rect', {x:X0, y:p.top, width:X1-X0, height:p.bottom-p.top}, cp);
  const plot = mk('g', {'clip-path':'url(#clip-' + p.id + ')'}, g);
  
  
  return {g, plot, ys: makeY(p)};
}
function drawLine(parent, data, ys, color, w, name, opacity){
  const e = mk('path', {d:pathD(data, ys), fill:'none', stroke:color, 'stroke-width':w, 'stroke-linejoin':'round', 'stroke-linecap':'round', 'stroke-opacity':opacity||1}, parent);
  
  
  return e;
}
function drawSpans(parent, spans, p, color, op, name){
  for (const s of spans){
    const x = sx(s[0]);
    const w = Math.max(sx(s[1]) - x, 3);
    const r = mk('rect', {x:x.toFixed(1), y:p.top, width:w.toFixed(1), height:p.bottom-p.top, fill:color, 'fill-opacity':op}, parent);
    
    
  }
}
function drawAxes(g, p, ys){
  for (let i = 0; i < p.ticks.length; i++){
    const v = p.ticks[i], y = ys(v);
    const t = mk('line', {x1:X0, y1:y, x2:X0+27, y2:y, stroke:'#0072BD', 'stroke-width':3}, g);
    
    
    const lb = mk('text', {x:346, y:y+13, 'text-anchor':'end', 'font-size':38, fill:'#0072BD'}, g);
    
    
    lb.textContent = p.labels ? p.labels[i] : String(v);
  }
  for (const h of hourTicks){
    const x = sx(h);
    const t = mk('line', {x1:x, y1:p.bottom, x2:x, y2:p.bottom-27, stroke:'#262626', 'stroke-width':2.5}, g);
    
    
    const lb = mk('text', {x:x, y:p.bottom+66, 'text-anchor':'middle', 'font-size':38, fill:'#262626'}, g);
    
    
    lb.textContent = String(h);
  }
  const lft = mk('line', {x1:X0, y1:p.top, x2:X0, y2:p.bottom, stroke:'#0072BD', 'stroke-width':3}, g);
  
  
  const rgt = mk('line', {x1:X1, y1:p.top, x2:X1, y2:p.bottom, stroke:'#0072BD', 'stroke-width':3}, g);
  
  
  const bot = mk('line', {x1:X0, y1:p.bottom, x2:X1, y2:p.bottom, stroke:'#262626', 'stroke-width':3}, g);
  
  
  const xl = mk('text', {x:(X0+X1)/2, y:p.bottom+134, 'text-anchor':'middle', 'font-size':45, fill:'#262626'}, g);
  
  
  xl.textContent = 'UTC hours on 20250516';
  const cy = (p.top + p.bottom)/2;
  const yl = mk('text', {x:p.ylx, y:cy, 'text-anchor':'middle', 'font-size':43, fill:'#0072BD', transform:'rotate(-90 ' + p.ylx + ' ' + cy + ')'}, g);
  
  
  if (p.ylabel){ yl.textContent = p.ylabel; }
  else {
    yl.appendChild(document.createTextNode('log10 Liquid Water Path, log10(g/m'));
    const sup = mk('tspan', {dy:-16, 'font-size':30}, yl);
    sup.textContent = '2';
    const close = mk('tspan', {dy:16}, yl);
    close.textContent = ')';
  }
}
function legend(g, entries, x1, x2, tx){
  const lg = mk('g', {}, g);
  
  
  for (const en of entries){
    if (en.color){
      const l = mk('line', {x1:x1, y1:en.y, x2:x2, y2:en.y, stroke:en.color, 'stroke-width':en.w}, lg);
      
      
    }
    const t = mk('text', {x:tx, y:en.ty || (en.y+13), 'font-size':38, fill:'#000'}, lg);
    
    
    t.textContent = en.text;
  }
}
function xMark(parent, h, v, ys, color, name){
  const x = sx(h), y = ys(v), s = 10;
  const m = mk('path', {d:'M'+(x-s)+','+(y-s)+'L'+(x+s)+','+(y+s)+'M'+(x-s)+','+(y+s)+'L'+(x+s)+','+(y-s), stroke:color, 'stroke-width':6, fill:'none', 'stroke-opacity':0.85}, parent);
  
  
}

const TAN = 'rgb(210,180,140)';
(function(){
  const p = panels[0], P = panelGroup(p);
  drawLine(P.plot, bt23Blue, P.ys, '#0000ff', 4, 'series-mwr-2c');
  drawLine(P.plot, bt23Light, P.ys, '#add8e6', 5, 'series-mwr-3c');
  drawLine(P.plot, bt23Orange, P.ys, '#ff8c00', 9, 'series-phy-iter');
  drawSpans(P.plot, bt23Wet, p, TAN, 0.5, 'wet-window-span');
  drawAxes(P.g, p, P.ys);
  legend(P.g, [{y:394, color:'#0000ff', w:5, text:'MWR 2C (tan = wet window)'},{y:452, color:'#add8e6', w:6, text:'MWR 3C'},{y:511, color:'#ff8c00', w:10, text:'Phy-Iter'}], 626, 860, 885);
})();
(function(){
  const p = panels[1], P = panelGroup(p);
  drawLine(P.plot, bt31Blue, P.ys, '#0000ff', 4, 'series-mwr-2c');
  drawLine(P.plot, bt31Light, P.ys, '#add8e6', 5, 'series-mwr-3c');
  drawLine(P.plot, bt31Orange, P.ys, '#ff8c00', 9, 'series-phy-iter');
  drawSpans(P.plot, bt31Rain, p, TAN, 0.5, 'rain-flag-span');
  drawAxes(P.g, p, P.ys);
  legend(P.g, [{y:1519, color:'#0000ff', w:5, text:'MWR2C'},{y:1577, color:'#add8e6', w:6, text:'MWR 3C (tan = rain flag)'},{y:1636, color:'#ff8c00', w:10, text:'Phy-Iter'}], 660, 889, 915);
})();
(function(){
  const p = panels[2], P = panelGroup(p);
  drawLine(P.plot, pwvBlue, P.ys, '#0000ff', 4, 'series-mwr-2c-pwv');
  drawLine(P.plot, pwvLight, P.ys, '#add8e6', 5, 'series-mwr-3c-pwv');
  drawLine(P.plot, pwvOrange, P.ys, '#ff8c00', 9, 'series-phy-iter-pwv');
  drawSpans(P.plot, pwvTanSpans, p, TAN, 0.5, 'mwr-2c-only-span');
  drawSpans(P.plot, pwvBrownSpans, p, 'rgb(165,42,42)', 0.5, 'mwr-3c-only-span');
  drawAxes(P.g, p, P.ys);
  legend(P.g, [{y:2659, color:'#0000ff', w:5, text:'MWR 2C PWV'},{y:2718, color:'#add8e6', w:6, text:'MWR 3C PWV'},{y:2774, text:'Phy-Iter PWV'},{y:2831, color:'#ff8c00', w:10, text:'(tan = MWR 2C only)'},{y:2886, text:'(brown = MWR 3C only)'}], 457, 686, 715);
})();
(function(){
  const p = panels[3], P = panelGroup(p);
  drawLine(P.plot, lwpLight, P.ys, '#add8e6', 5, 'series-mwr-3c-lwp');
  drawLine(P.plot, lwpGray, P.ys, '#808080', 4, 'series-flagged-lwp');
  drawLine(P.plot, lwpBlue, P.ys, '#0000ff', 4, 'series-mwr-2c-lwp');
  drawLine(P.plot, lwpOrange, P.ys, '#ff8c00', 8, 'series-phy-iter-lwp');
  drawLine(P.plot, lwpAdiabatic, P.ys, '#800080', 5, 'series-adiabatic-lwp');
  drawSpans(P.plot, lwpGraySpans, p, 'rgb(128,128,128)', 0.2, 'gray-flag-span');
  drawSpans(P.plot, lwpYellowSpans, p, 'rgb(255,255,0)', 0.5, 'yellow-flag-span');
  drawSpans(P.plot, lwpCyanSpans, p, 'rgb(0,255,255)', 0.5, 'cyan-flag-span');
  for (const m of lwpAdiabaticMarks) xMark(P.plot, m[0], m[1], P.ys, '#9a4a8a', 'adiabatic-marker');
  for (const m of lwpPhyMarks) xMark(P.plot, m[0], m[1], P.ys, '#ffa500', 'phy-iter-marker');
  drawAxes(P.g, p, P.ys);
  legend(P.g, [{y:3737, color:'#0000ff', w:5, text:'MWR 2C LWP'},{y:3794, color:'#add8e6', w:6, text:'MWR 3C LWP'},{y:3853, color:'#ff8c00', w:10, text:'Phy-Iter LWP'},{y:3910, color:'#800080', w:5, text:'Adiabatic LWP'}], 548, 780, 806);
})();
(function(){
  const p = panels[4], P = panelGroup(p);
  const runsByLevel = [flag0Runs, flag3Runs, flag4Runs, flag5Runs, flag6Runs, flag7Runs, flag9Runs, flag10Runs, flag11Runs];
  for (let i = 0; i < flagLevels.length; i++){
    const y = P.ys(flagLevels[i]);
    for (const r of runsByLevel[i]){
      for (let h = r[0]; h <= r[1] + 1e-6; h += 0.035){
        const c = mk('circle', {cx:sx(h).toFixed(1), cy:y.toFixed(1), r:4.8, fill:'#ff8c00'}, P.plot);
        
        
      }
    }
  }
  drawAxes(P.g, p, P.ys);
})();
</script>
</body></html>
